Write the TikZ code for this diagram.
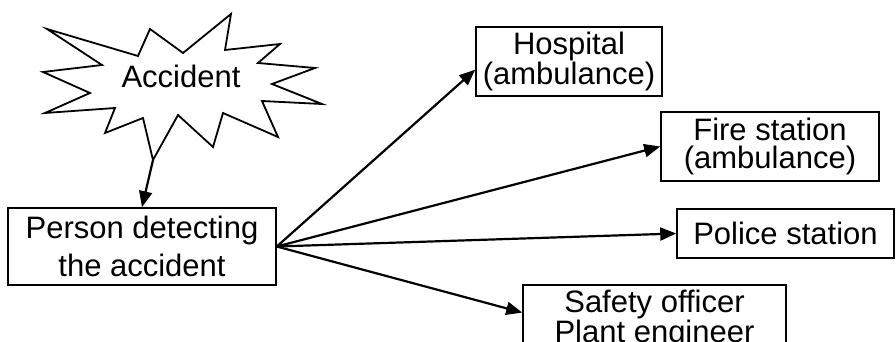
\documentclass[tikz,border=0pt]{standalone}
\usepackage{fontspec}
\setmainfont{Liberation Sans}
\usetikzlibrary{arrows.meta}
\tikzstyle{station}=[draw,line width=1.6pt,inner sep=0pt,align=center,font=\fontsize{31}{28.5}\selectfont]
\tikzstyle{edge} = [draw,line width=2.2pt,-{Triangle[length=16pt,width=13pt]}]
\tikzstyle{burst} = [draw,line width=1.8pt,line join=miter]

\begin{document}
\begin{tikzpicture}[x=1pt,y=-1pt]
						\useasboundingbox (0,0) rectangle (896,342);
						% First we draw the accident burst
						\path[burst] (47,29) -- (138,56) -- (150,29) -- (183,53) -- (231,14) -- (225,50)
						-- (280,44) -- (258,63) -- (315,68) -- (272,84) -- (322,104) -- (262,101)
						-- (278,137) -- (223,113) -- (213,147) -- (178,115) -- (153,160) -- (143,118)
						-- (105,133) -- (115,108) -- (45,113) -- (90,93) -- (43,72) -- (102,65) -- cycle;
						\node[inner sep=0pt,font=\fontsize{31}{28.5}\selectfont] (accident) at (181,76) {Accident};
						\coordinate (tip) at (153,160);
						
						% Then the boxes
						\node[station,minimum width=268pt,minimum height=77pt,font=\fontsize{31}{38}\selectfont] (person) at (142,246.5) {Person detecting\\the accident};
						\foreach \pos/\name/\txt/\w/\h in {{(569,61.5)/hosp/{Hospital\\(ambulance)}/186/69},
							{(770,146.5)/fire/{Fire station\\(ambulance)}/218/69},
							{(785.5,233.5)/police/{Police station}/217/49},
							{(654.5,319.5)/safety/{Safety officer\\Plant engineer}/263/69}}
						\node[station,minimum width=\w pt,minimum height=\h pt] (\name) at \pos {\txt};
						
						% Connect the boxes
						\path[edge] (tip) -- (person.north);
						\foreach \dest in {hosp.185, fire.west, police.west, safety.177}
						\path[edge] (person.east) -- (\dest);
					\end{tikzpicture}
\end{document}
